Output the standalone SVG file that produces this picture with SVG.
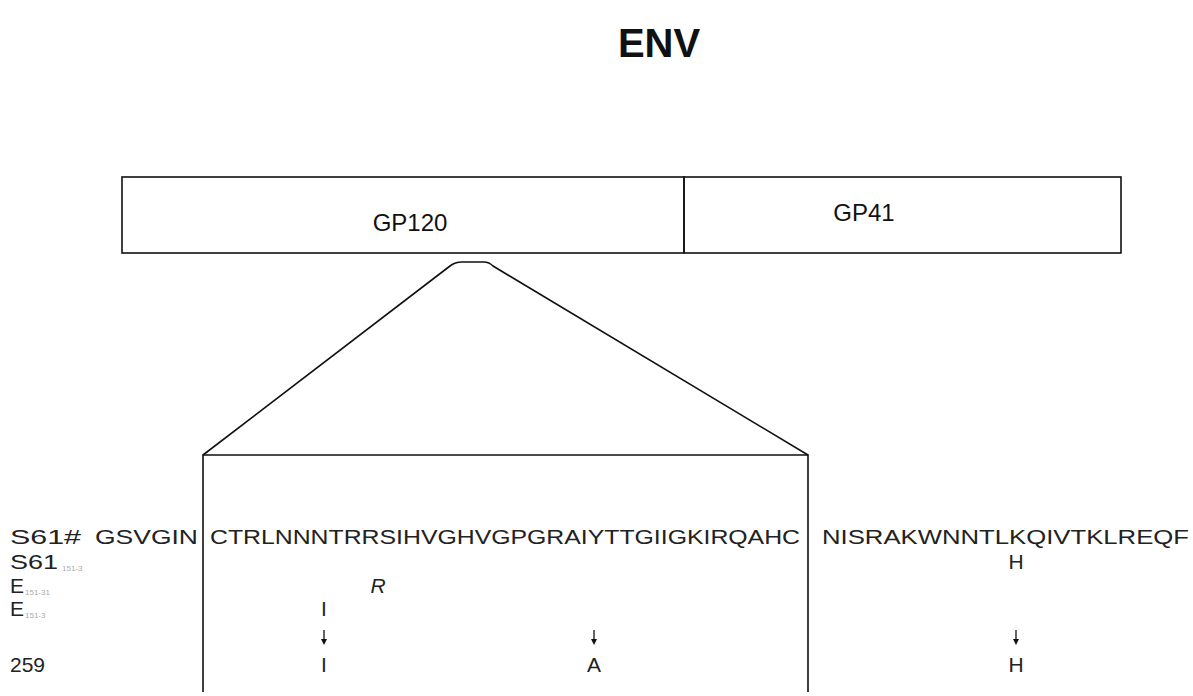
<svg xmlns="http://www.w3.org/2000/svg" width="1193" height="696" viewBox="0 0 1193 696">
<style>
.ln{fill:none;stroke:#111;stroke-width:1.6}
.t{font-family:"Liberation Sans",Arial,sans-serif;fill:#111}
.seq{font-family:"Liberation Sans",Arial,sans-serif;font-size:21px;fill:#222}
.sub{font-family:"Liberation Sans",Arial,sans-serif;font-size:8px;fill:#aaa}
.lab{font-family:"Liberation Sans",Arial,sans-serif;font-size:21px;fill:#222}
.ar{fill:none;stroke:#111;stroke-width:1.3}
.ah{fill:#111}
</style>
<rect width="1193" height="696" fill="#fff"/>
<g id="title"><text class="t" x="659" y="57" font-size="40" font-weight="bold" text-anchor="middle">ENV</text></g>
<g id="gp120"><rect class="ln" x="122" y="177" width="562" height="76"/><text class="t" x="410" y="231" font-size="24" text-anchor="middle">GP120</text></g>
<g id="gp41"><rect class="ln" x="684" y="177" width="437" height="76"/><text class="t" x="864" y="221" font-size="24" text-anchor="middle">GP41</text></g>
<g id="connectors">
<path class="ln" d="M203,455 L450,266 Q455,262 462,262 L484,262 Q489,262 493,266 L808,455"/>
<path class="ln" d="M203,692 L203,455 L808,455 L808,692"/>
<line class="ar" x1="324" y1="630" x2="324" y2="640"/><path class="ah" d="M321,639 L327,639 L324,645 Z"/>
<line class="ar" x1="594" y1="630" x2="594" y2="640"/><path class="ah" d="M591,639 L597,639 L594,645 Z"/>
<line class="ar" x1="1016" y1="630" x2="1016" y2="640"/><path class="ah" d="M1013,639 L1019,639 L1016,645 Z"/>
</g>
<g id="row-s61">
<text class="lab" x="10" y="544" textLength="71" lengthAdjust="spacingAndGlyphs">S61#</text>
<text class="lab" x="95" y="544" textLength="103" lengthAdjust="spacingAndGlyphs">GSVGIN</text>
<text class="seq" x="210" y="544" textLength="590" lengthAdjust="spacingAndGlyphs">CTRLNNNTRRSIHVGHVGPGRAIYTTGIIGKIRQAHC</text>
<text class="seq" x="822" y="544" textLength="367" lengthAdjust="spacingAndGlyphs">NISRAKWNNTLKQIVTKLREQF</text>
</g>
<g id="row-s61sub">
<text class="lab" x="10" y="569" textLength="48" lengthAdjust="spacingAndGlyphs">S61</text><text class="sub" x="62" y="571">151-3</text>
<text class="seq" x="1016" y="569" text-anchor="middle">H</text>
</g>
<g id="row-e1">
<text class="lab" x="10" y="593">E</text><text class="sub" x="25" y="595">151-31</text>
<text class="seq" x="378" y="593" text-anchor="middle" font-style="italic" fill="#555">R</text>
</g>
<g id="row-e2">
<text class="lab" x="10" y="616">E</text><text class="sub" x="25" y="618">151-3</text>
<text class="seq" x="324" y="616" text-anchor="middle">I</text>
</g>
<g id="row-259">
<text class="lab" x="10" y="672">259</text>
<text class="seq" x="324" y="672" text-anchor="middle">I</text>
<text class="seq" x="594" y="672" text-anchor="middle">A</text>
<text class="seq" x="1016" y="672" text-anchor="middle">H</text>
</g>
</svg>
